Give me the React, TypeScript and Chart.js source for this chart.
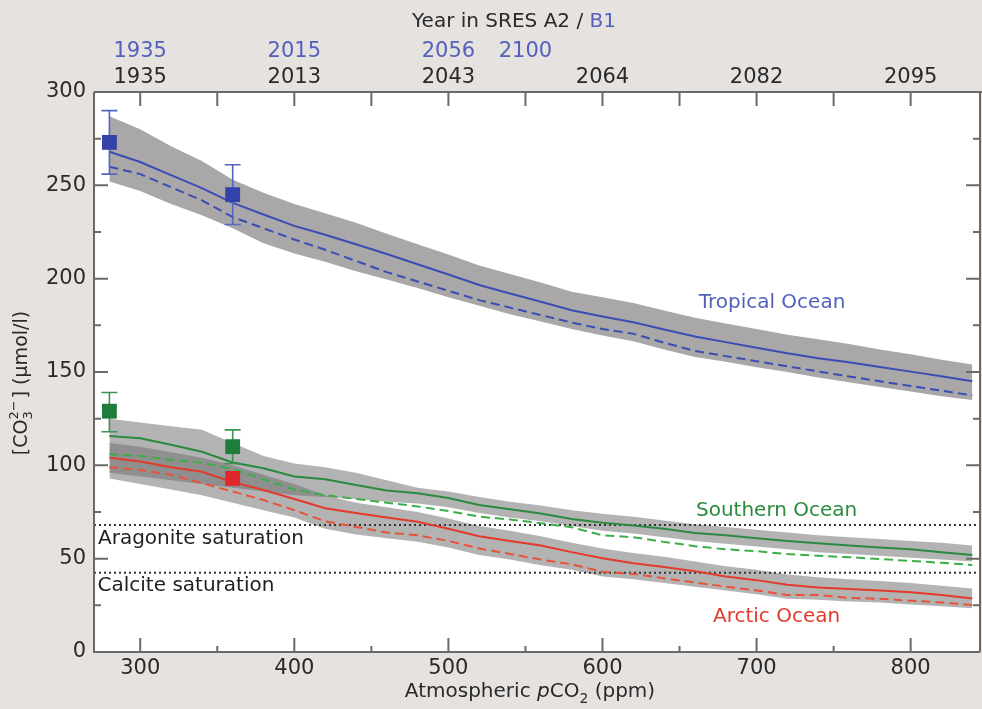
import { useEffect, useRef } from 'react';
import { Chart, registerables } from 'chart.js';

Chart.register(...registerables);

// ---------- data ----------
const X_MIN = 270;
const X_MAX = 845;
const PPM = [280, 300, 320, 340, 360, 380, 400, 420, 440, 460, 480, 500, 520, 540, 560, 580, 600, 620, 640, 660, 680, 700, 720, 740, 760, 780, 800, 820, 840];

const TROPICAL_SOLID = [268, 262.5, 255.5, 248.5, 240.6, 234.4, 228.3, 223.5, 218.4, 213.2, 207.7, 202.2, 196.6, 192.1, 187.6, 183.1, 179.7, 176.6, 172.8, 169, 166, 163, 160, 157.4, 155.2, 152.7, 150.2, 147.7, 145];
const TROPICAL_DASHED = [260, 256, 249, 242, 233, 227, 221, 215.5, 209.5, 203.5, 198.5, 193.5, 188.5, 184.5, 180.5, 176.5, 173, 170.5, 165.7, 161.3, 158.5, 155.8, 153, 150.3, 147.6, 145, 142.5, 140, 137.5];
const TROPICAL_UPPER = [287, 280, 271, 263, 253, 246, 240, 235, 230, 224, 218.5, 213, 207, 202.5, 198, 193, 190, 187, 183, 179, 176, 173, 170, 167.5, 165, 162, 159.5, 156.5, 154];
const TROPICAL_LOWER = [252, 247, 240, 234, 227, 219, 213.5, 209, 204, 199.5, 195, 190, 185.5, 181, 177, 173, 169.5, 166.5, 162, 158, 155.5, 152.5, 150, 147, 144.5, 142, 139.5, 137, 135];

const SOUTHERN_SOLID = [115.7, 114.5, 111, 107.3, 101.5, 98.4, 94, 92.5, 89.5, 86.5, 85, 82.5, 78.7, 76.5, 74.2, 71.3, 69.2, 67.8, 66, 63.8, 62.5, 61, 59.5, 58.3, 57, 56, 55, 53.5, 52];
const SOUTHERN_DASHED = [106, 105, 103, 101.4, 98, 92.5, 87, 84, 82, 80, 78, 75.5, 72.5, 71, 69, 66.8, 62.5, 61.5, 59, 56.7, 55, 54, 52.5, 51.5, 50.8, 49.8, 48.8, 47.8, 46.6];
const SOUTHERN_UPPER = [125, 123, 121, 119, 112, 105, 101, 99, 96, 92, 88, 86, 83, 80.5, 78.5, 76, 74, 72.5, 70.5, 68.5, 67, 65.5, 64, 62.5, 61.5, 60.5, 59.5, 58.5, 57];
const SOUTHERN_LOWER = [96, 94, 92, 90, 88, 86, 84, 83, 82, 80.5, 79.5, 77.5, 74.5, 72, 70, 67.5, 65, 63.5, 61.5, 59.5, 58, 56.5, 55, 53.5, 52.5, 51.5, 50.5, 49.5, 48.5];

const ARCTIC_SOLID = [104, 102, 99, 96.6, 91, 86.8, 82, 77, 74.5, 72, 69.8, 66, 62, 59.5, 57, 53.5, 50.2, 47.5, 45.5, 43.3, 40.5, 38.5, 36, 34.5, 33.8, 33, 32, 30.5, 28.7];
const ARCTIC_DASHED = [99, 97.5, 95, 90.4, 86, 81.4, 76, 70, 67, 64, 62.5, 59.5, 55.5, 52.5, 49.5, 47, 43, 41.8, 39.5, 37.2, 35, 33, 30.5, 30.5, 29, 28.5, 27.5, 26.5, 25.2];
const ARCTIC_UPPER = [112, 110, 107, 104, 100, 95, 90, 84, 80, 77.5, 75, 71.5, 67.5, 65, 62, 58.5, 55.5, 53, 51, 48.5, 46, 44, 41.5, 40, 39, 38, 37, 35.5, 34];
const ARCTIC_LOWER = [93, 90, 87, 84, 80, 76, 72, 66, 63, 61, 59, 56, 52, 49.5, 46.5, 44, 40.5, 39, 37, 35, 33, 31, 28.5, 28, 27, 26.5, 25.5, 24.5, 23.5];

const OBS_PPM = [280, 360];
const TROPICAL_OBS = [273, 245];
const TROPICAL_OBS_LO = [256, 229];
const TROPICAL_OBS_HI = [290, 261];
const SOUTHERN_OBS = [129, 110];
const SOUTHERN_OBS_LO = [118, 101];
const SOUTHERN_OBS_HI = [139, 119];
const ARCTIC_OBS_PPM = [360];
const ARCTIC_OBS = [93];

const ARAGONITE_SAT = 68;
const CALCITE_SAT = 42.5;

const X_TICKS = [300, 400, 500, 600, 700, 800];
const Y_TICKS = [0, 50, 100, 150, 200, 250, 300];
const TOP_TICK_PPM = [300, 400, 500, 600, 700, 800];
const A2_YEARS = ['1935', '2013', '2043', '2064', '2082', '2095'];
const B1_TICK_PPM = [300, 400, 500, 550];
const B1_YEARS = ['1935', '2015', '2056', '2100'];

// ---------- styles ----------
const W = 982;
const H = 709;
const FONT = '"DejaVu Sans", sans-serif';
const AXIS_COLOR = '#6a6a6a';
const TEXT_COLOR = '#2a2a2a';
const BLUE = '#3b4db5';
const BLUE_TEXT = '#5262bb';
const GREEN = '#2a8a3f';
const GREEN_DASH = '#3cae48';
const RED = '#e23a2c';
const RED_DASH = '#e8533a';

const xy = (xs: number[], ys: number[]) => xs.map((x, i) => ({ x, y: ys[i] }));

const bandDs = (upper: number[], lower: number[], color: string) => [
  { data: xy(PPM, upper), fill: '+1', backgroundColor: color, borderWidth: 0, pointRadius: 0, order: 5 },
  { data: xy(PPM, lower), fill: false, borderWidth: 0, pointRadius: 0, order: 5 },
];

const lineDs = (ys: number[], color: string, dashed: boolean) => ({
  data: xy(PPM, ys),
  borderColor: color,
  borderWidth: 2,
  borderDash: dashed ? [9, 5] : [],
  pointRadius: 0,
  fill: false,
  tension: 0,
  order: 2,
});

const satDs = (v: number) => ({
  data: [{ x: X_MIN, y: v }, { x: X_MAX, y: v }],
  borderColor: '#333',
  borderWidth: 2,
  borderDash: [2, 3],
  pointRadius: 0,
  fill: false,
  order: 3,
});

const markerDs = (xs: number[], ys: number[], color: string, lo?: number[], hi?: number[], errColor?: string) => ({
  data: xy(xs, ys),
  showLine: false,
  pointStyle: 'rect',
  pointRadius: 10.5,
  pointBackgroundColor: color,
  pointBorderWidth: 0,
  fill: false,
  order: 0,
  errLo: lo,
  errHi: hi,
  errColor,
});

const errorBarPlugin = {
  id: 'errorBars',
  beforeDatasetDraw(chart: any, args: any) {
    const ds = chart.data.datasets[args.index];
    if (!ds.errLo) return;
    const { ctx } = chart;
    const xs = chart.scales.x;
    const ys = chart.scales.y;
    ctx.save();
    ctx.strokeStyle = ds.errColor;
    ctx.lineWidth = 1.6;
    ds.data.forEach((p: any, i: number) => {
      const px = xs.getPixelForValue(p.x);
      const yl = ys.getPixelForValue(ds.errLo[i]);
      const yh = ys.getPixelForValue(ds.errHi[i]);
      ctx.beginPath();
      ctx.moveTo(px, yl);
      ctx.lineTo(px, yh);
      ctx.moveTo(px - 8, yl);
      ctx.lineTo(px + 8, yl);
      ctx.moveTo(px - 8, yh);
      ctx.lineTo(px + 8, yh);
      ctx.stroke();
    });
    ctx.restore();
  },
};

const framePlugin = {
  id: 'frame',
  beforeDraw(chart: any) {
    const { ctx, chartArea: a } = chart;
    ctx.save();
    ctx.fillStyle = '#ffffff';
    ctx.fillRect(a.left, a.top, a.right - a.left, a.bottom - a.top);
    ctx.restore();
  },
  afterDraw(chart: any) {
    const { ctx, chartArea: a } = chart;
    const xs = chart.scales.x;
    const ys = chart.scales.y;
    ctx.save();
    // frame
    ctx.strokeStyle = AXIS_COLOR;
    ctx.lineWidth = 2;
    ctx.beginPath();
    ctx.moveTo(a.left, a.top);
    ctx.lineTo(chart.width, a.top);
    ctx.moveTo(a.left, a.top);
    ctx.lineTo(a.left, a.bottom);
    ctx.lineTo(a.right, a.bottom);
    ctx.moveTo(a.right, a.top);
    ctx.lineTo(a.right, a.bottom);
    ctx.stroke();
    // ticks
    ctx.beginPath();
    for (let v = 0; v <= 300; v += 25) {
      const py = ys.getPixelForValue(v);
      const len = v % 50 === 0 ? 14 : 7;
      ctx.moveTo(a.left, py);
      ctx.lineTo(a.left + len, py);
      ctx.moveTo(a.right, py);
      ctx.lineTo(a.right - len, py);
    }
    for (let v = 300; v <= 800; v += 50) {
      const px = xs.getPixelForValue(v);
      const len = v % 100 === 0 ? 14 : 6;
      ctx.moveTo(px, a.bottom);
      ctx.lineTo(px, a.bottom - len);
      ctx.moveTo(px, a.top);
      ctx.lineTo(px, a.top + 14);
    }
    ctx.stroke();

    // top B1 labels
    ctx.font = `21px ${FONT}`;
    ctx.textAlign = 'center';
    ctx.textBaseline = 'middle';
    ctx.fillStyle = BLUE_TEXT;
    B1_TICK_PPM.forEach((v, i) => {
      ctx.fillText(B1_YEARS[i], xs.getPixelForValue(v), 52);
    });

    // top title
    ctx.font = `20px ${FONT}`;
    const t1 = 'Year in SRES A2 / ';
    const t2 = 'B1';
    const w1 = ctx.measureText(t1).width;
    const w2 = ctx.measureText(t2).width;
    let sx = 514 - (w1 + w2) / 2;
    ctx.textAlign = 'left';
    ctx.fillStyle = TEXT_COLOR;
    ctx.fillText(t1, sx, 22);
    ctx.fillStyle = BLUE_TEXT;
    ctx.fillText(t2, sx + w1, 22);

    // bottom axis title
    const parts: [string, string, number][] = [
      ['Atmospheric ', `20px ${FONT}`, 0],
      ['p', `italic 20px ${FONT}`, 0],
      ['CO', `20px ${FONT}`, 0],
      ['2', `14px ${FONT}`, 7],
      [' (ppm)', `20px ${FONT}`, 0],
    ];
    let total = 0;
    parts.forEach(([s, f]) => { ctx.font = f; total += ctx.measureText(s).width; });
    sx = 530 - total / 2;
    ctx.fillStyle = TEXT_COLOR;
    parts.forEach(([s, f, dy]) => {
      ctx.font = f;
      ctx.fillText(s, sx, 692 + dy);
      sx += ctx.measureText(s).width;
    });

    // y axis title (rotated)
    ctx.translate(22, 383);
    ctx.rotate(-Math.PI / 2);
    ctx.font = `19px ${FONT}`;
    const a1 = '[CO';
    const a3 = '] (µmol/l)';
    const wa1 = ctx.measureText(a1).width;
    const wa3 = ctx.measureText(a3).width;
    ctx.font = `13px ${FONT}`;
    const wsup = ctx.measureText('2−').width;
    const total2 = wa1 + wsup + 2 + wa3;
    let yx = -total2 / 2;
    ctx.fillStyle = TEXT_COLOR;
    ctx.font = `19px ${FONT}`;
    ctx.fillText(a1, yx, 0);
    yx += wa1;
    ctx.font = `13px ${FONT}`;
    ctx.fillText('2−', yx, -7);
    ctx.fillText('3', yx, 7);
    yx += wsup + 2;
    ctx.font = `19px ${FONT}`;
    ctx.fillText(a3, yx, 0);
    ctx.restore();

    // region labels
    ctx.save();
    ctx.font = `20px ${FONT}`;
    ctx.textBaseline = 'middle';
    ctx.textAlign = 'center';
    ctx.fillStyle = BLUE_TEXT;
    ctx.fillText('Tropical Ocean', xs.getPixelForValue(710), ys.getPixelForValue(187));
    ctx.fillStyle = GREEN;
    ctx.fillText('Southern Ocean', xs.getPixelForValue(713), ys.getPixelForValue(75.5));
    ctx.fillStyle = RED;
    ctx.fillText('Arctic Ocean', xs.getPixelForValue(713), ys.getPixelForValue(18.7));
    ctx.textAlign = 'left';
    ctx.fillStyle = '#1e1e1e';
    ctx.fillText('Aragonite saturation', xs.getPixelForValue(272.6), ys.getPixelForValue(60.5));
    ctx.fillText('Calcite saturation', xs.getPixelForValue(272.3), ys.getPixelForValue(35.3));
    ctx.restore();
  },
};

const zeroPad = (s: any) => {
  s.paddingLeft = 0;
  s.paddingRight = 0;
};

export default function App() {
  const ref = useRef<HTMLCanvasElement | null>(null);
  useEffect(() => {
    document.body.style.margin = '0';
    if (!ref.current) return;
    const datasets: any[] = [
      ...bandDs(TROPICAL_UPPER, TROPICAL_LOWER, '#a9a7a8'),
      ...bandDs(SOUTHERN_UPPER, SOUTHERN_LOWER, 'rgba(110,110,110,0.52)'),
      ...bandDs(ARCTIC_UPPER, ARCTIC_LOWER, 'rgba(110,110,110,0.52)'),
      lineDs(TROPICAL_SOLID, BLUE, false),
      lineDs(TROPICAL_DASHED, BLUE, true),
      lineDs(SOUTHERN_SOLID, GREEN, false),
      lineDs(SOUTHERN_DASHED, GREEN_DASH, true),
      lineDs(ARCTIC_SOLID, RED, false),
      lineDs(ARCTIC_DASHED, RED_DASH, true),
      satDs(ARAGONITE_SAT),
      satDs(CALCITE_SAT),
      markerDs(OBS_PPM, TROPICAL_OBS, '#3342a8', TROPICAL_OBS_LO, TROPICAL_OBS_HI, '#5665c0'),
      markerDs(OBS_PPM, SOUTHERN_OBS, '#1f7d3c', SOUTHERN_OBS_LO, SOUTHERN_OBS_HI, '#3a9452'),
      markerDs(ARCTIC_OBS_PPM, ARCTIC_OBS, '#e0282a'),
    ];
    const chart = new Chart(ref.current, {
      type: 'line',
      data: { datasets },
      plugins: [framePlugin, errorBarPlugin],
      options: {
        animation: false,
        responsive: false,
        devicePixelRatio: 1,
        layout: { autoPadding: false, padding: { left: 0, right: 2, top: 0, bottom: 0 } },
        plugins: {
          legend: { display: false },
          tooltip: { enabled: false },
          filler: { drawTime: 'beforeDatasetsDraw' },
        },
        font: { family: FONT },
        scales: {
          x: {
            type: 'linear',
            position: 'bottom',
            min: X_MIN,
            max: X_MAX,
            afterBuildTicks: (s: any) => { s.ticks = X_TICKS.map((v) => ({ value: v })); },
            afterFit: (s: any) => { s.height = 57; zeroPad(s); },
            grid: { display: false, drawTicks: false },
            border: { display: false },
            ticks: { color: TEXT_COLOR, font: { size: 21, family: FONT }, padding: 4, autoSkip: false, maxRotation: 0 },
          },
          x2: {
            type: 'linear',
            position: 'top',
            min: X_MIN,
            max: X_MAX,
            afterBuildTicks: (s: any) => { s.ticks = TOP_TICK_PPM.map((v) => ({ value: v })); },
            afterFit: (s: any) => { s.height = 92; zeroPad(s); },
            grid: { display: false, drawTicks: false },
            border: { display: false },
            ticks: {
              color: TEXT_COLOR,
              font: { size: 21, family: FONT },
              padding: 2,
              autoSkip: false,
              maxRotation: 0,
              callback: (v: any) => A2_YEARS[TOP_TICK_PPM.indexOf(Number(v))] ?? '',
            },
          },
          y: {
            type: 'linear',
            min: 0,
            max: 300,
            afterBuildTicks: (s: any) => { s.ticks = Y_TICKS.map((v) => ({ value: v })); },
            afterFit: (s: any) => { s.width = 94; },
            grid: { display: false, drawTicks: false },
            border: { display: false },
            ticks: { color: TEXT_COLOR, font: { size: 21, family: FONT }, padding: 8, autoSkip: false },
          },
        },
      } as any,
    });
    return () => chart.destroy();
  }, []);
  return (
    <div style={{ position: 'fixed', left: 0, top: 0, width: W, height: H, background: '#e5e2e0' }}>
      <canvas ref={ref} width={W} height={H} style={{ display: 'block', width: W, height: H }} />
    </div>
  );
}
